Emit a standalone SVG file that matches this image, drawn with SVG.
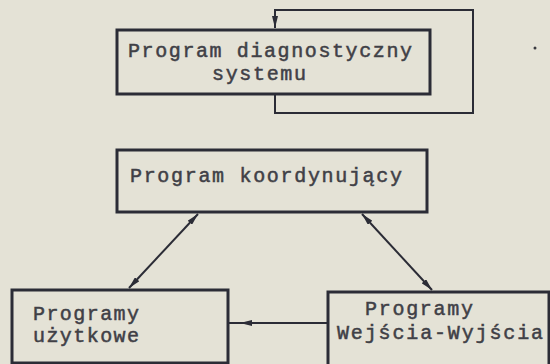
<svg xmlns="http://www.w3.org/2000/svg" width="550" height="364" viewBox="0 0 550 364">
  <style>
    .box { fill: none; stroke: #2b2c36; stroke-width: 3; }
    .wire { fill: none; stroke: #2b2c36; stroke-width: 2; }
    .label { font-family: "Liberation Mono", "DejaVu Sans Mono", monospace; font-size: 20px; fill: #404046; stroke: #404046; stroke-width: 0.5; }
  </style>
  <defs>
    <marker id="head" viewBox="0 0 12 6" refX="12" refY="3" markerWidth="12" markerHeight="6" markerUnits="userSpaceOnUse" orient="auto-start-reverse">
      <path d="M0,0 L12,3 L0,6 Z" fill="#2b2c36"/>
    </marker>
  </defs>

  <rect width="550" height="364" fill="#e4e2d6"/>

  <g id="connectors">
    <!-- feedback loop around the diagnostic program -->
    <path class="wire" d="M275,94 V113 H473 V10 H275 V18"/>
    <path class="wire" d="M275,14 V28" marker-end="url(#head)"/>
    <!-- coordinator to user programs -->
    <line class="wire" x1="198" y1="214" x2="129" y2="288" marker-start="url(#head)" marker-end="url(#head)"/>
    <!-- coordinator to I/O programs -->
    <line class="wire" x1="362" y1="214" x2="432" y2="290" marker-start="url(#head)" marker-end="url(#head)"/>
    <!-- I/O programs to user programs -->
    <line class="wire" x1="328" y1="323" x2="228" y2="323" stroke-width="2.5"/>
    <line class="wire" x1="258" y1="323" x2="240" y2="323" marker-end="url(#head)"/>
  </g>

  <g id="diagnostic">
    <rect class="box" x="117" y="30" width="313" height="64"/>
    <text class="label" x="128" y="57" textLength="284" lengthAdjust="spacing">Program diagnostyczny</text>
    <text class="label" x="212" y="80" textLength="94" lengthAdjust="spacing">systemu</text>
  </g>

  <g id="coordinator">
    <rect class="box" x="117" y="150" width="310" height="62"/>
    <text class="label" x="130" y="182" textLength="272" lengthAdjust="spacing">Program koordynujący</text>
  </g>

  <g id="user-programs">
    <rect class="box" x="12" y="290" width="216" height="73"/>
    <text class="label" x="33" y="320" textLength="106" lengthAdjust="spacing">Programy</text>
    <text class="label" x="33" y="342" textLength="106" lengthAdjust="spacing">użytkowe</text>
  </g>

  <g id="io-programs">
    <rect class="box" x="328" y="292" width="221" height="76"/>
    <text class="label" x="365" y="315" textLength="108" lengthAdjust="spacing">Programy</text>
    <text class="label" x="337" y="339" textLength="206" lengthAdjust="spacing">Wejścia-Wyjścia</text>
  </g>

  <circle cx="535" cy="48" r="1.5" fill="#3a3a40"/>
</svg>
